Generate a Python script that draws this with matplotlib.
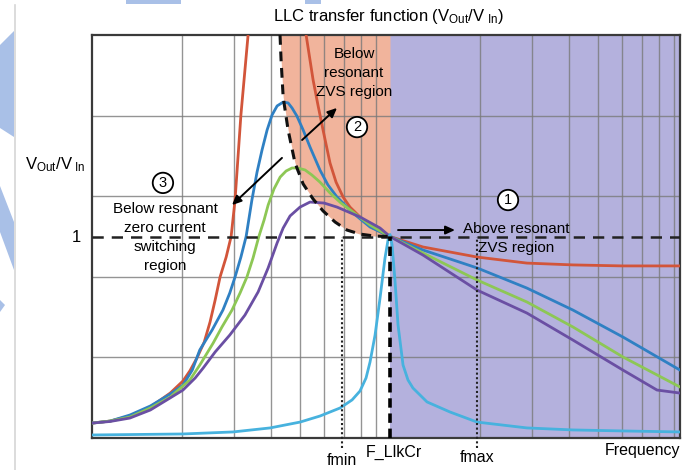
import matplotlib
matplotlib.use("Agg")
import matplotlib.pyplot as plt
from matplotlib.patches import Polygon
from matplotlib.transforms import blended_transform_factory

plt.rcParams['font.family'] = ['Liberation Sans', 'DejaVu Sans']
plt.rcParams['mathtext.fontset'] = 'custom'
plt.rcParams['mathtext.rm'] = 'Liberation Sans'
plt.rcParams['mathtext.it'] = 'Liberation Sans'
plt.rcParams['mathtext.default'] = 'regular'

# normalised frequency (f / fr) and gain Vout/Vin
# (red leaves the top of the plot and comes back, hence the 2.27 points)
red_f = [0.100, 0.115, 0.134, 0.157, 0.183, 0.202, 0.213, 0.225, 0.238, 0.249, 0.259, 0.269, 0.282,
         0.293, 0.302, 0.316, 0.334, 0.344,
         0.499, 0.523, 0.552, 0.573, 0.596, 0.629, 0.659, 0.696, 0.734, 0.793, 0.877, 1.0,
         1.29, 1.96, 2.88, 4.11, 6.05, 9.4]
red_g = [0.074, 0.084, 0.109, 0.154, 0.223, 0.283, 0.333, 0.397, 0.476, 0.576, 0.685, 0.799, 0.898,
         1.0, 1.181, 1.603, 2.0, 2.27,
         2.27, 2.0, 1.777, 1.653, 1.529, 1.365, 1.270, 1.196, 1.146, 1.097, 1.042, 1.0,
         0.948, 0.898, 0.868, 0.859, 0.854, 0.854]

blue_f = [0.100, 0.115, 0.134, 0.157, 0.183, 0.202, 0.217, 0.230, 0.253, 0.275, 0.290, 0.302, 0.316,
          0.329, 0.344, 0.358, 0.372, 0.387, 0.402, 0.418, 0.438, 0.455, 0.469, 0.487, 0.511, 0.539,
          0.582, 0.619, 0.664, 0.751, 0.857, 1.0, 1.29, 1.96, 2.88, 4.11, 6.05, 9.4]
blue_g = [0.074, 0.084, 0.114, 0.159, 0.218, 0.263, 0.337, 0.437, 0.536, 0.635, 0.720, 0.799, 0.898,
          1.0, 1.181, 1.320, 1.429, 1.529, 1.603, 1.648, 1.667, 1.663, 1.638, 1.598, 1.529, 1.444,
          1.330, 1.256, 1.196, 1.117, 1.047, 1.0, 0.933, 0.844, 0.744, 0.635, 0.501, 0.337]

green_f = [0.100, 0.115, 0.134, 0.157, 0.183, 0.213, 0.230, 0.255, 0.273, 0.295, 0.314, 0.331, 0.347,
           0.363, 0.378, 0.390, 0.408, 0.428, 0.448, 0.469, 0.491, 0.519, 0.547, 0.582, 0.629, 0.685,
           0.751, 0.857, 1.0, 1.29, 1.96, 2.88, 4.11, 6.05, 9.4]
green_g = [0.074, 0.084, 0.104, 0.149, 0.203, 0.288, 0.362, 0.471, 0.551, 0.635, 0.720, 0.799, 0.893,
           1.0, 1.082, 1.156, 1.236, 1.295, 1.325, 1.340, 1.340, 1.330, 1.305, 1.270, 1.216, 1.166,
           1.122, 1.057, 1.0, 0.918, 0.784, 0.675, 0.551, 0.402, 0.253]

purple_f = [0.100, 0.115, 0.134, 0.157, 0.183, 0.202, 0.222, 0.236, 0.259, 0.290, 0.326, 0.361, 0.390,
            0.418, 0.438, 0.462, 0.499, 0.539, 0.601, 0.664, 0.793, 0.926, 1.0,
            1.29, 1.96, 2.88, 4.11, 6.05, 7.87, 9.4]
purple_g = [0.074, 0.082, 0.099, 0.139, 0.199, 0.238, 0.298, 0.347, 0.427, 0.511, 0.610, 0.725, 0.844,
            0.968, 1.042, 1.102, 1.146, 1.171, 1.166, 1.146, 1.097, 1.042, 1.0,
            0.908, 0.734, 0.620, 0.486, 0.337, 0.238, 0.223]

cyan_f = [0.100, 0.202, 0.297, 0.396, 0.499, 0.582, 0.680, 0.746, 0.793, 0.831, 0.857, 0.891, 0.926,
          0.962, 0.985, 1.0, 1.016, 1.039, 1.064, 1.106, 1.149, 1.194, 1.331, 1.590, 1.96, 2.88,
          4.11, 6.05, 9.4]
cyan_g = [0.015, 0.020, 0.030, 0.050, 0.079, 0.109, 0.149, 0.189, 0.233, 0.298, 0.377, 0.511, 0.695,
          0.893, 0.983, 1.01, 0.958, 0.784, 0.561, 0.362, 0.288, 0.248, 0.179, 0.129, 0.079, 0.050,
          0.040, 0.035, 0.030]

# peak-gain boundary (dashed)
bound_f = [0.4275, 0.431, 0.438, 0.455, 0.480, 0.511, 0.552, 0.596, 0.654, 0.717, 0.793, 0.891, 1.0]
bound_g = [2.0, 1.876, 1.692, 1.529, 1.365, 1.261, 1.186, 1.127, 1.072, 1.032, 1.012, 1.002, 1.0]

grid_f = [0.2, 0.3, 0.4, 0.5, 0.6, 0.7, 0.8, 0.9, 2, 3, 4, 5, 6, 7, 8, 9]
grid_g = [0.4, 0.8, 1.2, 1.6]
f_min, f_res, f_max = 0.69, 1.0, 1.96
f_lo, f_hi = 0.1, 9.4

curves = [(red_f, red_g, '#d2553a'), (blue_f, blue_g, '#2f80c3'), (green_f, green_g, '#8dc755'),
          (purple_f, purple_g, '#6a4fa3'), (cyan_f, cyan_g, '#47b2de')]

W, H = 693, 470
fig = plt.figure(figsize=(W / 100, H / 100), dpi=100)
fig.patch.set_facecolor('white')


def fpx(x, y):
    return (x / W, 1 - y / H)


# watermark bits around the border
wm = '#a9c0e7'
for pts in [[(0, 45), (14, 31), (14, 137), (0, 128)],
            [(0, 186), (14, 222), (14, 270), (0, 232)],
            [(0, 300), (5, 305), (0, 312)],
            [(126, 0), (181, 0), (181, 4), (126, 4)],
            [(305, 0), (321, 0), (321, 4), (305, 4)]]:
    fig.patches.append(Polygon([fpx(*p) for p in pts], closed=True, transform=fig.transFigure,
                               facecolor=wm, edgecolor='none'))
fig.add_artist(plt.Line2D([15 / W, 15 / W], [0, 1 - 5 / H], color='#d6d6d6', lw=1.2))

ax = fig.add_axes([92 / W, 32 / H, 588 / W, 403 / H])
ax.set_xscale('log')
ax.set_xlim(f_lo, f_hi)
ax.set_ylim(0, 2)

ax.axvspan(f_res, f_hi, color='#b4b1dd', lw=0, zorder=0)
ax.fill_between(bound_f, bound_g, 2.0, color='#f1b49c', lw=0, zorder=0)

for f in grid_f:
    ax.axvline(f, color='#7a7a7a', alpha=0.8, lw=1.0, zorder=1)
for g in grid_g:
    ax.axhline(g, color='#7a7a7a', alpha=0.8, lw=1.0, zorder=1)

for xs, ys, c in curves:
    ax.plot(xs, ys, color=c, lw=2.0, zorder=3, solid_capstyle='round', solid_joinstyle='round')

ax.axhline(1.0, color='#222222', lw=1.8, ls=(0, (4.5, 3.2)), zorder=4)
ax.plot(bound_f, bound_g, color='#111111', lw=2.2, ls=(0, (3.2, 2.2)), zorder=4)
ax.plot([f_res, f_res], [0, 1.0], color='black', lw=2.6, ls=(0, (2.6, 1.6)), zorder=5)
for f in (f_min, f_max):
    ax.plot([f, f], [-0.05, 1.0], color='#222222', lw=1.5, ls=(0, (1, 1.2)), zorder=4, clip_on=False)

for s in ax.spines.values():
    s.set_color('#3a3a3a')
    s.set_linewidth(1.6)
ax.set_xticks([])
ax.set_xticks([], minor=True)
ax.set_yticks([1.0])
ax.set_yticklabels(['1'], fontsize=12)
ax.tick_params(axis='y', length=0, pad=8)

fig.text(55 / W, 1 - 165 / H, r'V$_{Out}$/V$_{\ In}$', ha='center', va='center', fontsize=12)
fig.text(388 / W, 1 - 17 / H, r'LLC transfer function (V$_{Out}$/V$_{\ In}$)', ha='center',
         va='center', fontsize=12)

bt = blended_transform_factory(ax.transData, ax.transAxes)
ax.text(f_min, -0.055, 'fmin', transform=bt, ha='center', va='center', fontsize=11.5)
ax.text(1.03, -0.035, 'F_LlkCr', transform=bt, ha='center', va='center', fontsize=11.5)
ax.text(f_max, -0.048, 'fmax', transform=bt, ha='center', va='center', fontsize=11.5)
ax.text(1.0, -0.03, 'Frequency', transform=ax.transAxes, ha='right', va='center', fontsize=11.5)

txt = dict(ha='center', va='center', fontsize=11, linespacing=1.45, zorder=6)
ax.text(0.757, 1.811, 'Below\nresonant\nZVS region', **txt)
ax.text(0.176, 0.993, 'Below resonant\nzero current\nswitching\nregion', **txt)
ax.text(2.647, 0.99, 'Above resonant\nZVS region', **txt)

circ = dict(ha='center', va='center', fontsize=10.5, zorder=7,
            bbox=dict(boxstyle='circle,pad=0.22', fc='white', ec='black', lw=1.3))
ax.text(0.775, 1.543, '2', **circ)
ax.text(0.173, 1.266, '3', **circ)
ax.text(2.489, 1.181, '1', **circ)

arr = dict(arrowstyle='-|>,head_length=0.55,head_width=0.25', color='black', lw=1.4,
           shrinkA=0, shrinkB=0)
ax.annotate('', xy=(0.664, 1.638), xytext=(0.507, 1.479), arrowprops=arr, zorder=7)
ax.annotate('', xy=(0.295, 1.156), xytext=(0.434, 1.390), arrowprops=arr, zorder=7)
ax.annotate('', xy=(1.652, 1.032), xytext=(1.064, 1.032), arrowprops=arr, zorder=7)

fig.savefig('out.png', dpi=100)
